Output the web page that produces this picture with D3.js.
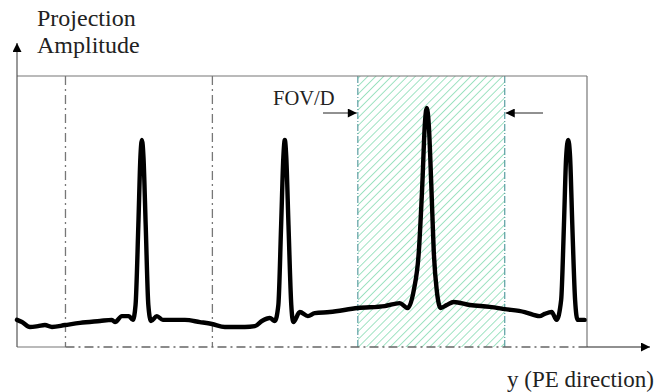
<!DOCTYPE html>
<html>
<head>
<meta charset="utf-8">
<script src="https://cdn.jsdelivr.net/npm/d3@7"></script>
<style>
  body { margin: 0; background: #fff; }
  text { font-family: "Liberation Serif", "Times New Roman", serif; fill: #222; }
</style>
</head>
<body>
<div id="chart"></div>
<script>
// position along y (PE direction), in units of FOV/D
var pos = [0, 0.034, 0.088, 0.143, 0.190, 0.238, 0.327, 0.429, 0.565, 0.646, 0.667, 0.714, 0.762, 0.789,
    0.807, 0.826, 0.840, 0.850, 0.861, 0.876, 0.894, 0.912, 0.952, 0.993, 1.054, 1.143, 1.245, 1.327, 1.415,
    1.551, 1.619, 1.667, 1.721, 1.755, 1.779, 1.798, 1.813, 1.823, 1.833, 1.848, 1.867, 1.881, 1.925, 1.980,
    2.027, 2.129, 2.320, 2.503, 2.605, 2.660, 2.701, 2.735, 2.759, 2.776, 2.789, 2.803, 2.820, 2.837, 2.857, 2.884,
    2.925, 2.973, 3.082, 3.218, 3.320, 3.456, 3.558, 3.592, 3.639, 3.673, 3.704, 3.723, 3.738, 3.752, 3.765,
    3.780, 3.799, 3.816, 3.864];
// projection amplitude (relative)
var amp = [0.100, 0.092, 0.074, 0.077, 0.081, 0.074, 0.081, 0.089, 0.096, 0.100, 0.092, 0.114, 0.114, 0.100,
    0.155, 0.450, 0.700, 0.764, 0.700, 0.450, 0.155, 0.096, 0.114, 0.100, 0.100, 0.100, 0.092, 0.085, 0.074,
    0.074, 0.077, 0.096, 0.107, 0.096, 0.155, 0.450, 0.700, 0.764, 0.700, 0.450, 0.155, 0.092, 0.129, 0.114,
    0.125, 0.129, 0.144, 0.151, 0.162, 0.144, 0.210, 0.350, 0.600, 0.820, 0.882, 0.820, 0.600, 0.350, 0.210, 0.144,
    0.155, 0.166, 0.155, 0.148, 0.140, 0.129, 0.114, 0.122, 0.129, 0.100, 0.173, 0.450, 0.700, 0.764, 0.700,
    0.450, 0.173, 0.100, 0.100];
var dividers = [0.33, 1.33];
var fov = [2.32, 3.32];

var W = 662, H = 392;
var svg = d3.select('#chart').append('svg')
    .attr('width', W)
    .attr('height', H);

var x = d3.scaleLinear().domain([0, 3.88]).range([17, 587]);
var y = d3.scaleLinear().domain([0, 1]).range([347, 76]);

var defs = svg.append('defs');
var pat = defs.append('pattern')
    .attr('id', 'hatch')
    .attr('patternUnits', 'userSpaceOnUse')
    .attr('width', 5.6)
    .attr('height', 5.6)
    .attr('patternTransform', 'rotate(45)');
pat.append('line')
    .attr('x1', 0).attr('y1', 0).attr('x2', 0).attr('y2', 5.6)
    .attr('stroke', '#96e0bd')
    .attr('stroke-width', 1.8);

defs.append('marker')
    .attr('id', 'arrow')
    .attr('viewBox', '0 0 10 10')
    .attr('refX', 10).attr('refY', 5)
    .attr('markerUnits', 'userSpaceOnUse')
    .attr('markerWidth', 14).attr('markerHeight', 9)
    .attr('orient', 'auto')
    .append('path')
    .attr('d', 'M0,0 L10,5 L0,10 Z')
    .attr('fill', '#000');

// hatched FOV window
svg.append('rect')
    .attr('x', x(fov[0]))
    .attr('y', y(1))
    .attr('width', x(fov[1]) - x(fov[0]))
    .attr('height', y(0) - y(1))
    .attr('fill', 'url(#hatch)');
fov.forEach(function (d) {
    svg.append('line')
        .attr('x1', x(d)).attr('x2', x(d))
        .attr('y1', y(1)).attr('y2', y(0))
        .attr('stroke', '#5a9ea2')
        .attr('stroke-width', 1.2)
        .attr('stroke-dasharray', '7,2,1,2');
});

// frame
svg.append('line')
    .attr('x1', x(0)).attr('x2', x(3.88))
    .attr('y1', y(1)).attr('y2', y(1))
    .attr('stroke', '#777').attr('stroke-width', 1.2);
svg.append('line')
    .attr('x1', x(3.88)).attr('x2', x(3.88))
    .attr('y1', y(1)).attr('y2', y(0))
    .attr('stroke', '#777').attr('stroke-width', 1.2);

// dash-dot dividers
dividers.forEach(function (d) {
    svg.append('line')
        .attr('x1', x(d)).attr('x2', x(d))
        .attr('y1', y(1)).attr('y2', y(0))
        .attr('stroke', '#777')
        .attr('stroke-width', 1.3)
        .attr('stroke-dasharray', '9,4,2,4');
});

// bottom edge
svg.append('line')
    .attr('x1', x(0)).attr('x2', x(dividers[0]))
    .attr('y1', y(0)).attr('y2', y(0))
    .attr('stroke', '#777').attr('stroke-width', 1.2);
svg.append('line')
    .attr('x1', x(dividers[0])).attr('x2', x(3.88))
    .attr('y1', y(0)).attr('y2', y(0))
    .attr('stroke', '#666').attr('stroke-width', 1.3)
    .attr('stroke-dasharray', '9,4,2,4');

// axes with arrows
svg.append('line')
    .attr('x1', x(3.88)).attr('x2', 650)
    .attr('y1', y(0)).attr('y2', y(0))
    .attr('stroke', '#222').attr('stroke-width', 1.2)
    .attr('marker-end', 'url(#arrow)');
svg.append('line')
    .attr('x1', x(0)).attr('x2', x(0))
    .attr('y1', y(0)).attr('y2', 43)
    .attr('stroke', '#555').attr('stroke-width', 1.2)
    .attr('marker-end', 'url(#arrow)');

// FOV/D arrows
svg.append('line')
    .attr('x1', 323).attr('x2', x(fov[0]) - 1)
    .attr('y1', 113).attr('y2', 113)
    .attr('stroke', '#222').attr('stroke-width', 1)
    .attr('marker-end', 'url(#arrow)');
svg.append('line')
    .attr('x1', 543).attr('x2', x(fov[1]) + 1)
    .attr('y1', 113).attr('y2', 113)
    .attr('stroke', '#222').attr('stroke-width', 1)
    .attr('marker-end', 'url(#arrow)');

// projection profile
var line = d3.line()
    .x(function (d, i) { return x(pos[i]); })
    .y(function (d) { return y(d); })
    .curve(d3.curveMonotoneX);
svg.append('path')
    .datum(amp)
    .attr('d', line)
    .attr('fill', 'none')
    .attr('stroke', '#000')
    .attr('stroke-width', 4.4)
    .attr('stroke-linejoin', 'round')
    .attr('stroke-linecap', 'round');

// labels
svg.append('text').attr('x', 37).attr('y', 26).style('font-size', '24px').text('Projection');
svg.append('text').attr('x', 37).attr('y', 53).style('font-size', '24px').text('Amplitude');
svg.append('text').attr('x', 273).attr('y', 105).style('font-size', '20.5px').text('FOV/D');
svg.append('text').attr('x', 507).attr('y', 387).style('font-size', '23px').text('y (PE direction)');
</script>
</body>
</html>
